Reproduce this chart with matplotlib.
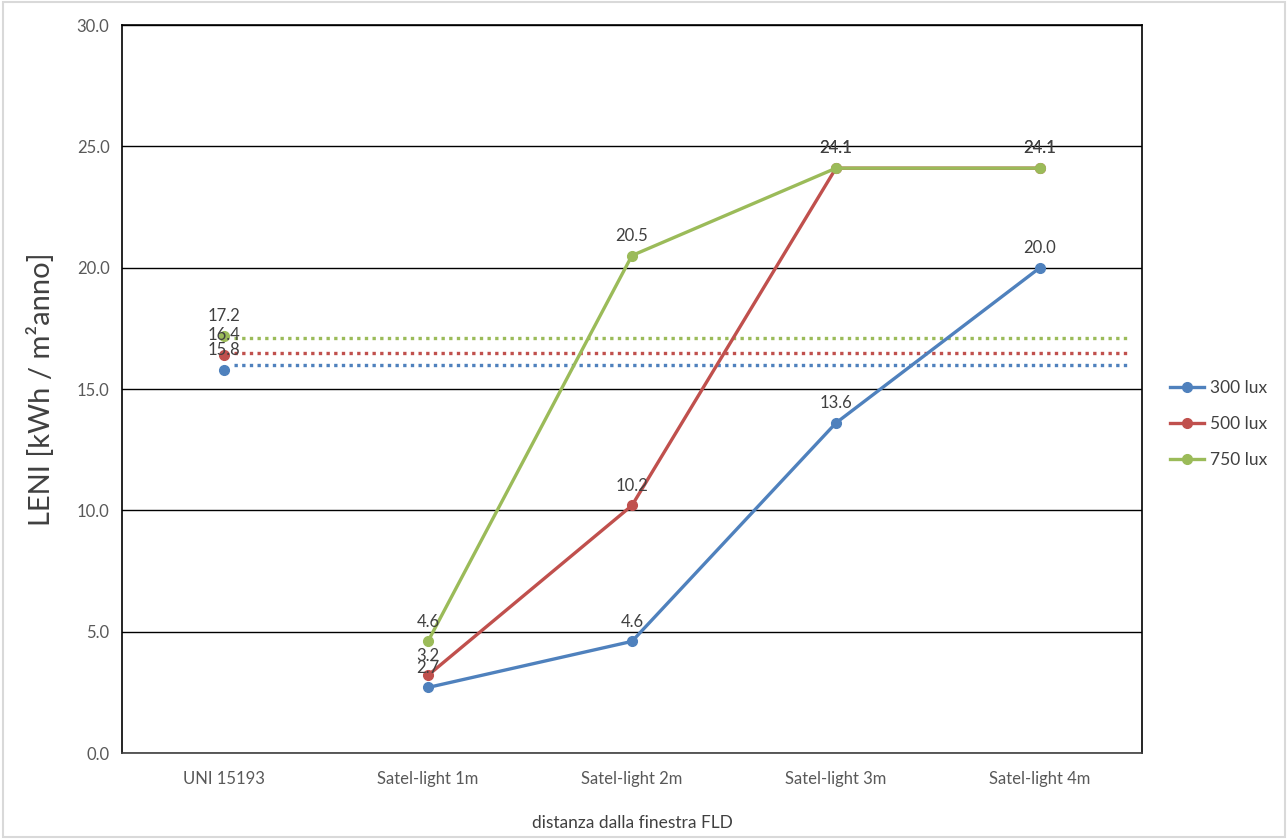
import matplotlib
matplotlib.use("Agg")
import matplotlib.pyplot as plt
from matplotlib.patches import Rectangle

plt.rcParams['font.family'] = ['Lato', 'DejaVu Sans']

categories = ["UNI 15193", "Satel-light 1m", "Satel-light 2m", "Satel-light 3m", "Satel-light 4m"]
series_names = ["300 lux", "500 lux", "750 lux"]
v300 = [15.8, 2.7, 4.6, 13.6, 20.0]
v500 = [16.4, 3.2, 10.2, 24.1, 24.1]
v750 = [17.2, 4.6, 20.5, 24.1, 24.1]
ref_lines = [16.0, 16.5, 17.1]   # dotted reference levels (UNI 15193)
colors = ["#4F81BD", "#C0504D", "#9BBB59"]
yticks = [0, 5, 10, 15, 20, 25, 30]

fig = plt.figure(figsize=(12.88, 8.39), dpi=100)
fig.patches.append(Rectangle((0.002, 0.002), 0.996, 0.996, transform=fig.transFigure,
                             fill=False, edgecolor="#D9D9D9", linewidth=1.5))
ax = fig.add_axes([0.0947, 0.1025, 0.7919, 0.8677])

x = [i + 0.5 for i in range(len(categories))]
handles = []
for vals, col, name, ref in zip([v300, v500, v750], colors, series_names, ref_lines):
    h, = ax.plot(x[1:], vals[1:], color=col, lw=2.4, marker="o", ms=7, label=name, zorder=3)
    ax.plot(x[:1], vals[:1], color=col, lw=0, marker="o", ms=7, zorder=3)
    ax.plot([0.55, 4.94], [ref, ref], color=col, lw=2.4, linestyle=(0, (1, 1.3)),
            dash_capstyle="butt", zorder=2)
    handles.append(h)
    for xi, v in zip(x, vals):
        ax.annotate(f"{v:.1f}", (xi, v), xytext=(0, 8.5), textcoords="offset points",
                    ha="center", va="bottom", fontsize=12, color="#404040", zorder=4)

ax.set_xlim(0, 5)
ax.set_ylim(0, 30)
ax.set_yticks(yticks)
ax.set_yticklabels([f"{t:.1f}" for t in yticks])
ax.set_xticks(x)
ax.set_xticklabels(categories)
ax.yaxis.grid(True, color="black", lw=1)
ax.set_axisbelow(True)
ax.tick_params(axis="both", length=0, labelsize=12, labelcolor="#595959")
ax.tick_params(axis="x", pad=13)
ax.tick_params(axis="y", pad=9)
for s in ["top", "right", "left"]:
    ax.spines[s].set_color("black")
    ax.spines[s].set_linewidth(1.2)
ax.spines["bottom"].set_color("#404040")
ax.spines["bottom"].set_linewidth(1.2)

ax.set_ylabel("LENI [kWh / m²anno]", fontsize=21, color="#404040", labelpad=16)
ax.set_xlabel("distanza dalla finestra FLD", fontsize=12.5, color="#404040", labelpad=20)

fig.legend(handles=handles, labels=series_names, loc="center left",
           bbox_to_anchor=(0.896, 0.495), frameon=False, fontsize=12.5,
           labelcolor="#404040", handlelength=2.0, labelspacing=1.15, handletextpad=0.3)

fig.savefig("out.png", dpi=100)
